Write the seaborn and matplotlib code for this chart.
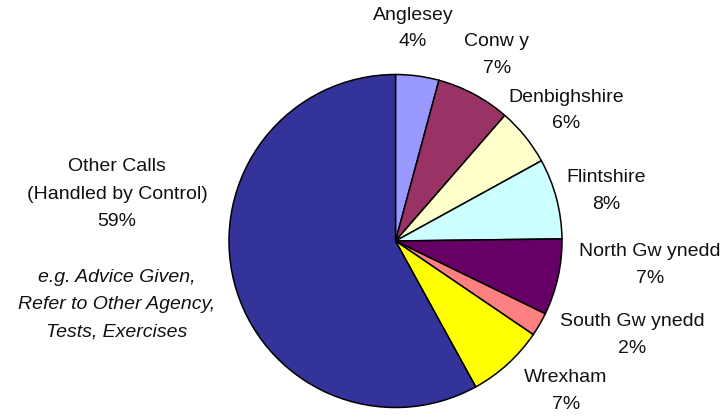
import matplotlib
matplotlib.use("Agg")
import matplotlib.pyplot as plt
import seaborn as sns

# ---- data ----
regions = ["Anglesey", "Conw y", "Denbighshire", "Flintshire",
           "North Gw ynedd", "South Gw ynedd", "Wrexham", "Other Calls"]
shares = [4.2, 7.2, 5.6, 7.8, 7.4, 2.3, 7.5, 58.0]
pct_labels = ["4%", "7%", "6%", "8%", "7%", "2%", "7%", "59%"]
colors = ["#9999FF", "#993366", "#FFFFCC", "#CCFFFF",
          "#660066", "#FF8080", "#FFFF00", "#333399"]
other_title = ["Other Calls", "(Handled by Control)"]
other_note = ["e.g. Advice Given,", "Refer to Other Agency,", "Tests, Exercises"]

sns.set_theme(style="white")
plt.rcParams["font.family"] = ["Liberation Sans", "DejaVu Sans"]

W, H = 725, 417
fig = plt.figure(figsize=(W / 100, H / 100), dpi=100)
fig.patch.set_facecolor("white")

cx, cy, r = 395.5, 241.0, 166.5
ax = fig.add_axes([(cx - r) / W, (H - cy - r) / H, 2 * r / W, 2 * r / H])
ax.pie(shares, colors=colors, startangle=90, counterclock=False,
       wedgeprops=dict(edgecolor="black", linewidth=1.1), radius=1.0)
ax.set_aspect("equal")
ax.set_xlim(-1.0, 1.0)
ax.set_ylim(-1.0, 1.0)
ax.axis("off")

fs = 14


def ftext(x, y, s, **kw):
    fig.text(x / W, 1 - y / H, s, ha="center", va="center", fontsize=fs,
             color="#111111", **kw)


# label block centres in pixels (x, y of first line), line spacing
label_pos = [(413, 15), (497, 42), (566, 97), (606, 178),
             (650, 252), (632, 322), (566, 378)]
gap = 26.5
for name, pct, (x, y) in zip(regions[:7], pct_labels[:7], label_pos):
    ftext(x, y, name)
    ftext(x, y + gap, pct)

# Other calls block
ox = 117
ftext(ox, 167, other_title[0])
ftext(ox, 194.5, other_title[1])
ftext(ox, 222, pct_labels[7])
for i, line in enumerate(other_note):
    ftext(ox, 277 + i * 27.5, line, style="italic")

fig.savefig("out.png", dpi=100, facecolor="white")
